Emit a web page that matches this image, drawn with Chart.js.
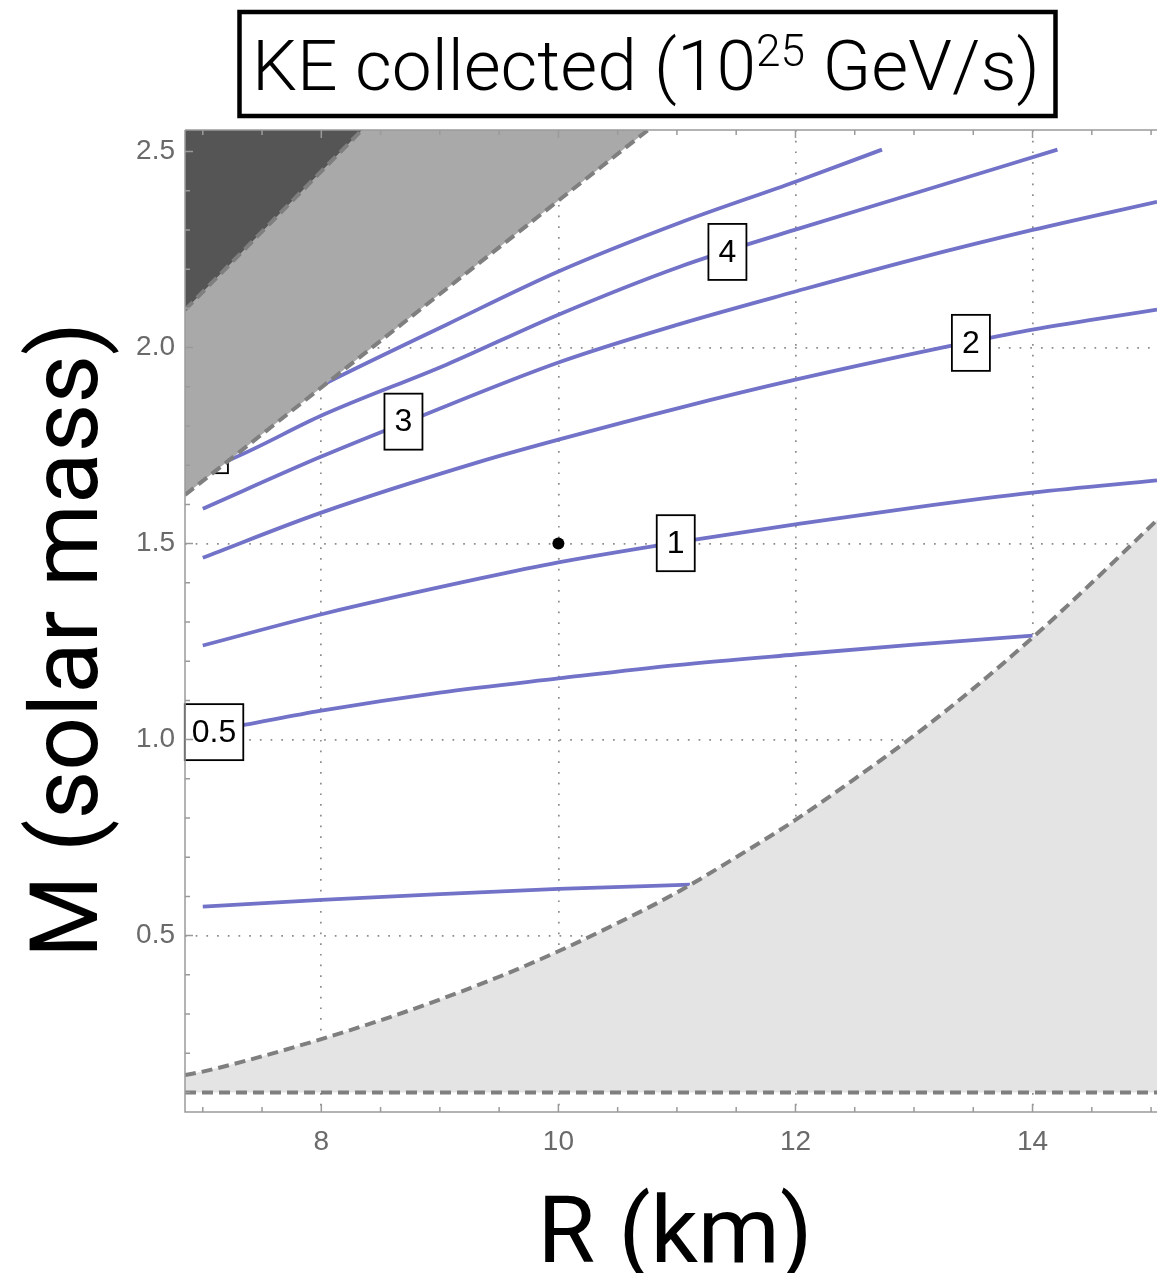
<!DOCTYPE html>
<html>
<head>
<meta charset="utf-8">
<script src="https://cdn.jsdelivr.net/npm/chart.js@4.4.1/dist/chart.umd.min.js"></script>
<style>
  html, body { margin: 0; padding: 0; background: #fff; }
  canvas { display: block; }
</style>
</head>
<body>
<canvas id="kePlot" width="1157" height="1273"></canvas>
<script>
// axis ranges and ticks
var rRange = [6.85, 15.05];
var mRange = [0.05, 2.555];
var rTicks = [8, 10, 12, 14];
var mTicks = [0.5, 1.0, 1.5, 2.0, 2.5];

// KE contours, R (km) and M (solar mass)
var c5R = [7.0, 7.5, 8.05, 9.06, 10.0, 11.03, 12.0, 12.73];
var c5M = [1.745, 1.825, 1.911, 2.059, 2.194, 2.319, 2.423, 2.505];
var c4R = [7.0, 7.23, 8.02, 9.06, 10.0, 11.03, 12.0, 13.0, 14.21];
var c4M = [1.69, 1.714, 1.829, 1.957, 2.084, 2.207, 2.301, 2.393, 2.505];
var c3R = [7.0, 8.0, 8.7, 10.0, 11.0, 12.0, 13.0, 14.0, 15.05];
var c3M = [1.589, 1.722, 1.808, 1.962, 2.058, 2.143, 2.225, 2.300, 2.372];
var c2R = [7.0, 8.0, 9.34, 10.0, 11.03, 12.0, 13.48, 14.0, 15.05];
var c2M = [1.464, 1.579, 1.709, 1.765, 1.847, 1.918, 2.015, 2.046, 2.097];
var c1R = [7.0, 8.02, 9.34, 10.0, 11.0, 12.04, 13.0, 14.0, 15.05];
var c1M = [1.240, 1.321, 1.411, 1.452, 1.503, 1.551, 1.592, 1.630, 1.661];
var cHalfR = [7.0, 7.36, 8.0, 9.0, 10.0, 11.0, 12.0, 13.0, 14.0];
var cHalfM = [1.018, 1.038, 1.074, 1.12, 1.156, 1.19, 1.217, 1.242, 1.265];
var cLowR = [7.0, 8.0, 9.0, 10.0, 11.11];
var cLowM = [0.574, 0.591, 0.606, 0.619, 0.630];

// contour labels
var labelText = ['0.5', '1', '2', '3', '4', '5'];
var labelR = [7.095, 10.99, 13.48, 8.693, 11.426, 7.052];
var labelM = [1.019, 1.501, 2.012, 1.811, 2.244, 1.751];

// excluded regions
var darkR = [6.85, 8.343];
var darkM = [2.096, 2.555];
var causalR = [6.85, 10.756];
var causalM = [1.624, 2.555];
var edgeR = [6.85, 7.0, 7.5, 8.0, 8.5, 9.0, 9.5, 10.0, 10.5, 11.0, 11.5, 12.0, 12.5, 13.0, 13.5, 14.0, 14.5, 15.05];
var edgeM = [0.144, 0.153, 0.192, 0.236, 0.284, 0.337, 0.395, 0.460, 0.532, 0.610, 0.700, 0.795, 0.90, 1.01, 1.13, 1.26, 1.40, 1.56];
var floorR = [6.85, 15.05];
var floorM = [0.1, 0.1];

// benchmark point
var starR = [10];
var starM = [1.5];

function pts(xs, ys) {
  return xs.map(function (x, i) { return { x: x, y: ys[i] }; });
}

var blue = '#7272c8';
function contour(name, xs, ys, ord) {
  return {
    label: name, data: pts(xs, ys), borderColor: blue, borderWidth: 3.8,
    pointRadius: 0, fill: false, cubicInterpolationMode: 'monotone', order: ord
  };
}
function dashed(name, xs, ys, fill, bg, ord) {
  return {
    label: name, data: pts(xs, ys), borderColor: '#7f7f7f', borderWidth: 4,
    borderDash: [11, 6], pointRadius: 0, fill: fill, backgroundColor: bg,
    cubicInterpolationMode: 'monotone', order: ord
  };
}

var lowest = contour('low', cLowR, cLowM, 20);
lowest.drawLabels = true;

var datasets = [
  contour('5', c5R, c5M, 26),
  contour('4', c4R, c4M, 25),
  contour('3', c3R, c3M, 24),
  contour('2', c2R, c2M, 23),
  contour('1', c1R, c1M, 22),
  contour('0.5', cHalfR, cHalfM, 21),
  lowest,
  dashed('edge', edgeR, edgeM, { value: 0.1 }, '#e4e4e4', 5),
  dashed('floor', floorR, floorM, false, 'rgba(0,0,0,0)', 4),
  dashed('causal', causalR, causalM, 'end', '#a9a9a9', 3),
  dashed('dark', darkR, darkM, 'end', '#555555', 2),
  { label: 'point', data: pts(starR, starM), showLine: false, pointRadius: 6,
    pointBackgroundColor: '#000', pointBorderWidth: 0, order: 1 }
];

var sans = '"Liberation Sans", Arial, sans-serif';

var labelBoxes = {
  id: 'labelBoxes',
  afterDatasetDraw: function (chart, args) {
    if (!chart.data.datasets[args.index].drawLabels) return;
    var ctx = chart.ctx, xs = chart.scales.x, ys = chart.scales.y;
    ctx.save();
    ctx.font = '32px ' + sans;
    ctx.textAlign = 'center';
    ctx.textBaseline = 'middle';
    for (var i = 0; i < labelText.length; i++) {
      var px = xs.getPixelForValue(labelR[i]);
      var py = ys.getPixelForValue(labelM[i]);
      var w = Math.max(38, ctx.measureText(labelText[i]).width + 14);
      var h = 56;
      ctx.fillStyle = '#fff';
      ctx.fillRect(px - w / 2, py - h / 2, w, h);
      ctx.strokeStyle = '#000';
      ctx.lineWidth = 1.8;
      ctx.strokeRect(px - w / 2, py - h / 2, w, h);
      ctx.fillStyle = '#000';
      ctx.fillText(labelText[i], px, py + 1);
    }
    ctx.restore();
  }
};

var frame = {
  id: 'frame',
  afterDatasetsDraw: function (chart) {
    var ctx = chart.ctx, ca = chart.chartArea, xs = chart.scales.x, ys = chart.scales.y;
    ctx.save();
    ctx.strokeStyle = '#9a9a9a';
    ctx.lineWidth = 1.5;
    ctx.beginPath();
    ctx.moveTo(ca.left, ca.top);
    ctx.lineTo(ca.left, ca.bottom);
    ctx.lineTo(ca.right, ca.bottom);
    ctx.moveTo(ca.left, ca.top);
    ctx.lineTo(ca.right, ca.top);
    for (var k = 14; k <= 30; k++) {
      var x = xs.getPixelForValue(k / 2);
      var len = (k % 4 === 0) ? 8 : 5;
      ctx.moveTo(x, ca.bottom); ctx.lineTo(x, ca.bottom - len);
      ctx.moveTo(x, ca.top); ctx.lineTo(x, ca.top + len);
    }
    for (var j = 1; j <= 25; j++) {
      var y = ys.getPixelForValue(j / 10);
      var l2 = (j % 5 === 0) ? 8 : 5;
      ctx.moveTo(ca.left, y); ctx.lineTo(ca.left + l2, y);
    }
    ctx.stroke();
    ctx.restore();
  },
  afterDraw: function (chart) {
    var ctx = chart.ctx;
    ctx.save();
    // title box
    ctx.strokeStyle = '#000';
    ctx.lineWidth = 4.5;
    ctx.strokeRect(239.5, 12, 816, 104);
    var parts = ['KE collected (10', '25', ' GeV/s)'];
    var titleFont = function (s) { return '300 ' + s + 'px Roboto, ' + sans; };
    var base = 70, sup = 0.62;
    function widthAt(s) {
      ctx.font = titleFont(s);
      var a = ctx.measureText(parts[0]).width + ctx.measureText(parts[2]).width;
      ctx.font = titleFont(s * sup);
      return a + ctx.measureText(parts[1]).width;
    }
    var s = base * 788 / widthAt(base);
    var x0 = 252, yb = 90;
    ctx.fillStyle = '#000';
    ctx.textBaseline = 'alphabetic';
    ctx.textAlign = 'left';
    ctx.font = titleFont(s);
    ctx.fillText(parts[0], x0, yb);
    x0 += ctx.measureText(parts[0]).width;
    ctx.font = titleFont(s * sup);
    ctx.fillText(parts[1], x0, yb - s * 0.34);
    x0 += ctx.measureText(parts[1]).width;
    ctx.font = titleFont(s);
    ctx.fillText(parts[2], x0, yb);

    // axis titles
    var axFont = function (sz) { return sz + 'px Roboto, ' + sans; };
    ctx.font = axFont(100);
    var rs = 100 * 275 / ctx.measureText('R (km)').width;
    ctx.font = axFont(rs);
    ctx.textAlign = 'center';
    ctx.fillText('R (km)', 675, 1262);
    ctx.font = axFont(100);
    var ms = 100 * 636 / ctx.measureText('M (solar mass)').width;
    ctx.translate(97, 640);
    ctx.rotate(-Math.PI / 2);
    ctx.font = axFont(ms);
    ctx.fillText('M (solar mass)', 0, 0);
    ctx.restore();
  }
};

new Chart(document.getElementById('kePlot'), {
  type: 'line',
  data: { datasets: datasets },
  options: {
    responsive: false,
    animation: false,
    devicePixelRatio: 1,
    layout: { autoPadding: false, padding: { top: 130, right: 0, left: 0, bottom: 0 } },
    plugins: { legend: { display: false }, tooltip: { enabled: false } },
    scales: {
      x: {
        type: 'linear', min: rRange[0], max: rRange[1],
        afterBuildTicks: function (sc) { sc.ticks = rTicks.map(function (v) { return { value: v }; }); },
        afterFit: function (sc) { sc.height = 161; sc.paddingLeft = 0; sc.paddingRight = 0; },
        grid: { color: '#8c8c8c', lineWidth: 1.7, drawTicks: false },
        border: { display: false, dash: [1.7, 9] },
        ticks: { color: '#6a6a6a', font: { size: 28, family: sans }, padding: 13, maxRotation: 0,
          callback: function (v) { return String(v); } }
      },
      y: {
        type: 'linear', min: mRange[0], max: mRange[1],
        afterBuildTicks: function (sc) { sc.ticks = mTicks.map(function (v) { return { value: v }; }); },
        afterFit: function (sc) { sc.width = 185; sc.paddingTop = 0; sc.paddingBottom = 0; },
        grid: { color: function (c) { return c.tick && c.tick.value === 2.5 ? 'rgba(0,0,0,0)' : '#8c8c8c'; },
          lineWidth: 1.7, drawTicks: false },
        border: { display: false, dash: [1.7, 9] },
        ticks: { color: '#6a6a6a', font: { size: 28, family: sans }, padding: 10,
          callback: function (v) { return Number(v).toFixed(1); } }
      }
    }
  },
  plugins: [labelBoxes, frame]
});
</script>
</body>
</html>
